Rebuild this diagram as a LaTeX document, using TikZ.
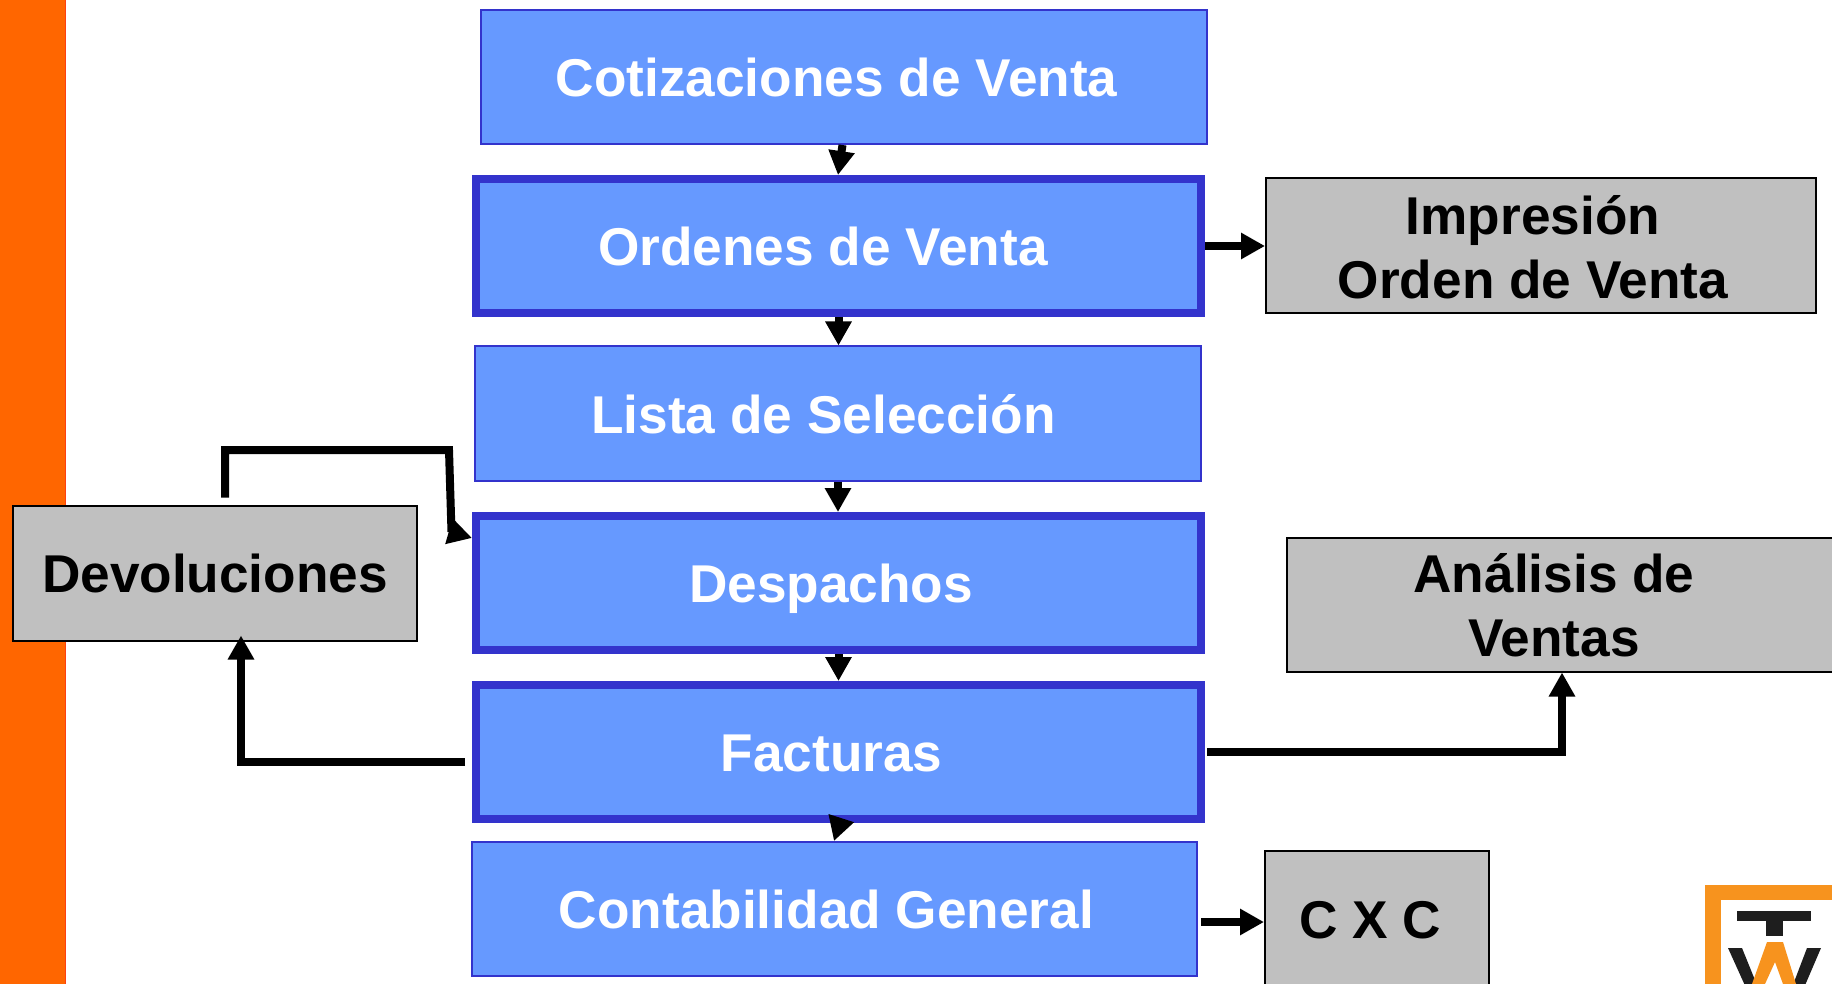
\documentclass[tikz,border=0pt]{standalone}
\usepackage{fontspec}
\setmainfont{Liberation Sans}
\usetikzlibrary{arrows.meta}
\definecolor{barorange}{HTML}{FF6600}
\definecolor{baredge}{HTML}{FF4010}
\definecolor{boxblue}{HTML}{6699FF}
\definecolor{boxedge}{HTML}{3333CC}
\definecolor{boxgray}{HTML}{C0C0C0}
\definecolor{logoorange}{HTML}{F7931E}
\definecolor{logoblack}{HTML}{1E1E1E}
\newcommand{\shifted}[2]{\mbox{\kern#1pt #2}}
\newcommand{\levelled}{\rule[-12pt]{0pt}{63pt}}
\newcommand{\toprule}{\rule{0pt}{41pt}}
\tikzset{
  base/.style={font=\fontsize{53.2}{64}\selectfont\bfseries,align=center,inner sep=0pt},
  thinblue/.style={base,draw=boxedge,fill=boxblue,line width=2pt,text=white},
  thickblue/.style={base,draw=boxedge,fill=boxblue,line width=8pt,text=white},
  graybox/.style={base,draw=black,fill=boxgray,line width=2pt,text=black},
  conn/.style={draw=black,line width=8pt,line join=miter},
  head/.style={-{Triangle[length=24pt,width=25pt]}},
}
\begin{document}
\begin{tikzpicture}[x=1pt,y=-1pt]
\clip (0,0) rectangle (1832,984);
\fill[white] (0,0) rectangle (1832,984);
% side bar
\fill[barorange] (0,0) rectangle (65,984);
\draw[baredge,line width=1pt] (65.5,0) -- (65.5,984);
% logo
\fill[logoorange] (1705,885) rectangle (1840,990);
\fill[white] (1721,900) rectangle (1840,990);
\fill[logoblack] (1737,911) rectangle (1811,921);
\fill[logoblack] (1766,921) rectangle (1783,936);
\fill[logoblack] (1728,948) -- (1742,948) -- (1759,990) -- (1747,990) -- cycle;
\fill[logoblack] (1807,948) -- (1821,948) -- (1803,990) -- (1791,990) -- cycle;
\fill[logoorange] (1767,942) -- (1783,942) -- (1796,984) -- (1783,984) -- (1775,962) -- (1765,984) -- (1752,984) -- cycle;
% main flow boxes
\node[thinblue,minimum width=726pt,minimum height=134pt] (cot) at (843.5,77) {\levelled\shifted{-14}{Cotizaciones de Venta}};
\node[thickblue,minimum width=725pt,minimum height=134pt] (ord) at (838.5,246) {\levelled\shifted{-31}{Ordenes de Venta}};
\node[thinblue,minimum width=726pt,minimum height=134pt] (lis) at (838,413.5) {\levelled\shifted{-29}{Lista de Selección}};
\node[thickblue,minimum width=725pt,minimum height=134pt] (des) at (838.5,583) {\levelled\shifted{-15}{Despachos}};
\node[thickblue,minimum width=725pt,minimum height=134pt] (fac) at (838.5,752) {\levelled\shifted{-14}{Facturas}};
\node[thinblue,minimum width=725pt,minimum height=134pt] (con) at (834.5,909) {\levelled\shifted{-16}{Contabilidad General}};
% side boxes
\node[graybox,minimum width=550pt,minimum height=135pt] (imp) at (1541,246) {\toprule\shifted{-16}{Impresión}\\\shifted{-16}{Orden de Venta}};
\node[graybox,minimum width=550pt,minimum height=134pt] (ana) at (1562,604.5) {\toprule\shifted{-16}{Análisis de}\\\shifted{-16}{Ventas}};
\node[graybox,minimum width=224pt,minimum height=136pt] (cxc) at (1377,919) {\levelled\shifted{-14}{C X C}};
\node[graybox,minimum width=404pt,minimum height=135pt] (dev) at (215,573) {\levelled Devoluciones};
% connectors
\draw[conn,head] ([xshift=-1pt]cot.south) -- ([xshift=-0.5pt]ord.north);
\draw[conn,head] (ord.south) -- (ord.south |- lis.north);
\draw[conn,head] (lis.south) -- (lis.south |- des.north);
\draw[conn,head] (des.south) -- (des.south |- fac.north);
\draw[conn,head] ([xshift=2.5pt,yshift=4pt]fac.south) -- ([xshift=-0.5pt]con.north);
\draw[conn,head] (ord.east) -- (imp.west);
\draw[conn,head] ([xshift=3pt,yshift=-13pt]con.east) -- ([yshift=-3pt]cxc.west);
\draw[conn,head] ([xshift=2pt]fac.east) -| (ana.south);
\draw[conn,head] ([xshift=-7pt,yshift=-10pt]fac.west) -| ([xshift=26pt,yshift=6pt]dev.south);
\coordinate (dvstart) at ([xshift=10pt,yshift=7pt]dev.north);
\coordinate (dvbend) at (449,450);
\coordinate (dvneck) at (451.5,532);
\coordinate (dvtip) at ([yshift=-26pt]des.north west);
\draw[conn] (dvstart) |- (dvbend) -- (dvneck);
\draw[conn,head] (dvneck) -- (dvtip);
\end{tikzpicture}
\end{document}
